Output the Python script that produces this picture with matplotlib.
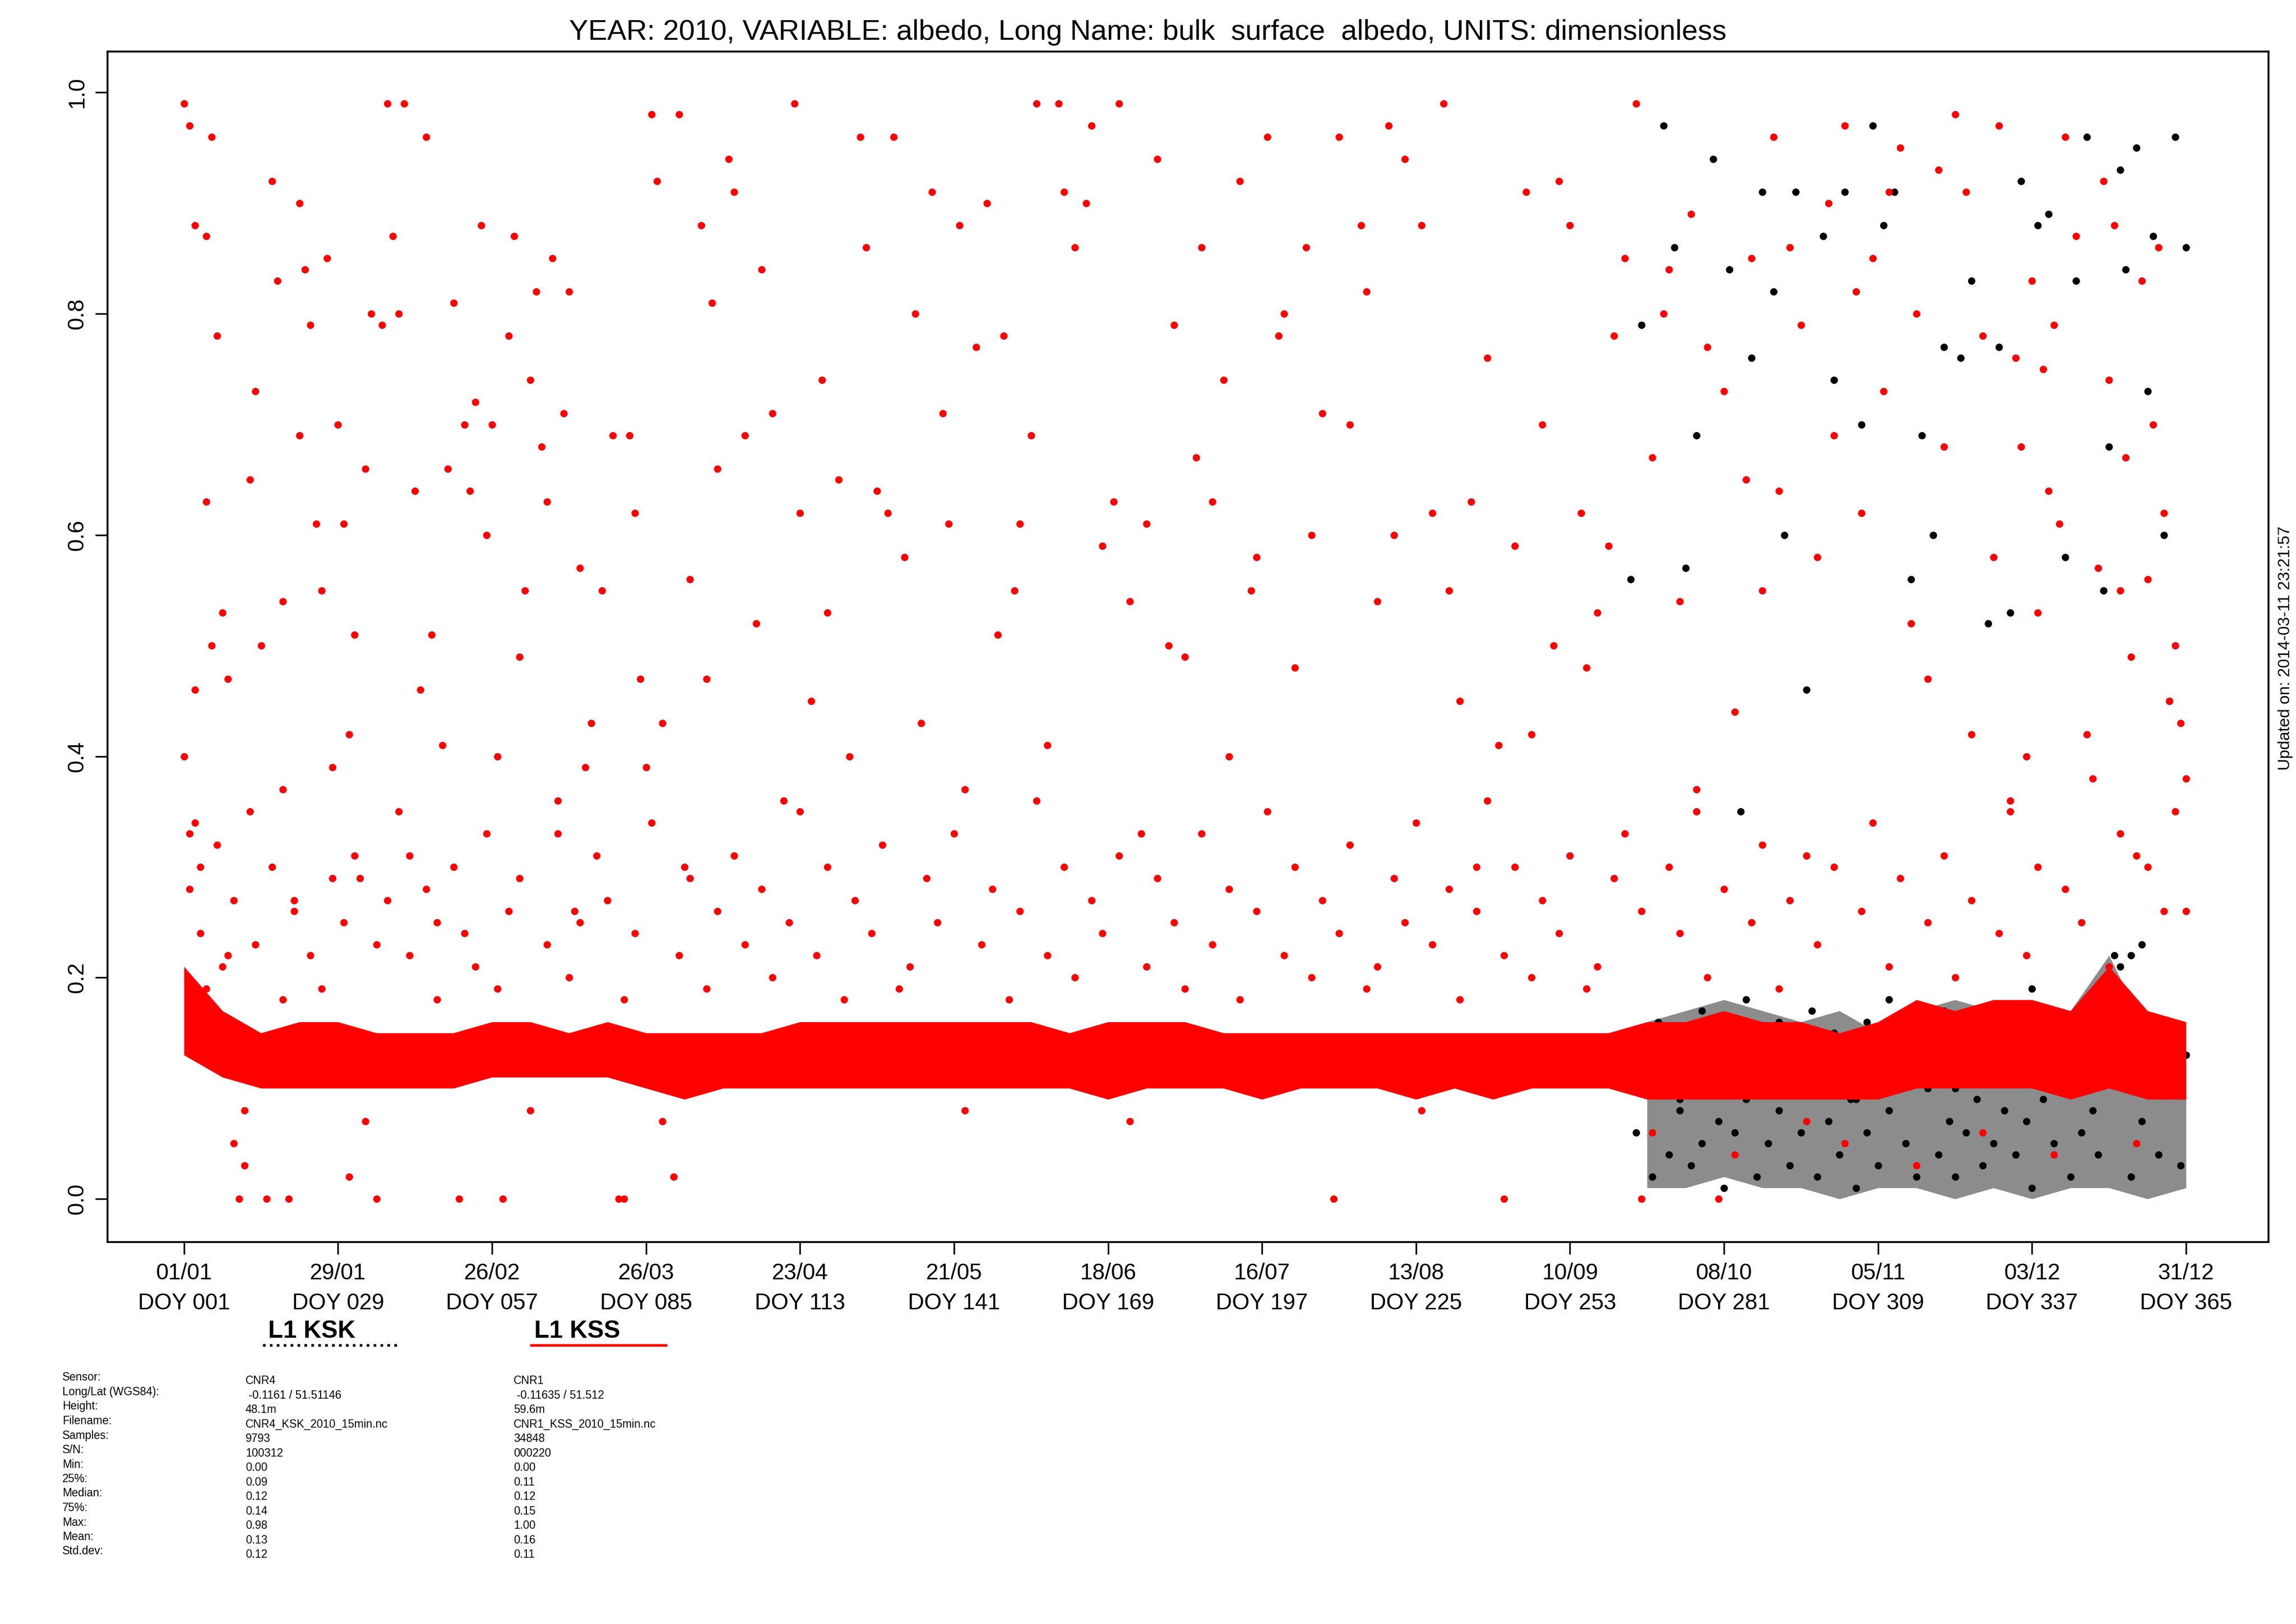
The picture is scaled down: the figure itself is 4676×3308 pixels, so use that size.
import matplotlib
matplotlib.use("Agg")
import matplotlib.pyplot as plt
import numpy as np

plt.rcParams['font.family'] = ['Liberation Sans', 'DejaVu Sans']

# ---------------- data ----------------
band_doy = [1, 8, 15, 22, 29, 36, 43, 50, 57, 64, 71, 78, 85, 92, 99, 106, 113, 120, 127, 134,
            141, 148, 155, 162, 169, 176, 183, 190, 197, 204, 211, 218, 225, 232, 239, 246,
            253, 260, 267, 274, 281, 288, 295, 302, 309, 316, 323, 330, 337, 344, 351, 358, 365]
kss_low = [0.13, 0.11, 0.10, 0.10, 0.10, 0.10, 0.10, 0.10, 0.11, 0.11, 0.11, 0.11, 0.10, 0.09, 0.10,
           0.10, 0.10, 0.10, 0.10, 0.10, 0.10, 0.10, 0.10, 0.10, 0.09, 0.10, 0.10, 0.10, 0.09, 0.10,
           0.10, 0.10, 0.09, 0.10, 0.09, 0.10, 0.10, 0.10, 0.09, 0.09, 0.09, 0.09, 0.09, 0.09, 0.09,
           0.10, 0.10, 0.10, 0.10, 0.09, 0.10, 0.09, 0.09]
kss_high = [0.21, 0.17, 0.15, 0.16, 0.16, 0.15, 0.15, 0.15, 0.16, 0.16, 0.15, 0.16, 0.15, 0.15, 0.15,
            0.15, 0.16, 0.16, 0.16, 0.16, 0.16, 0.16, 0.16, 0.15, 0.16, 0.16, 0.16, 0.15, 0.15, 0.15,
            0.15, 0.15, 0.15, 0.15, 0.15, 0.15, 0.15, 0.15, 0.16, 0.16, 0.17, 0.16, 0.16, 0.15, 0.16,
            0.18, 0.17, 0.18, 0.18, 0.17, 0.21, 0.17, 0.16]

kss_doy = [1, 1, 2, 2, 3, 3, 4, 5, 5, 6, 6, 7, 8, 9, 9, 10, 11, 12, 13, 13, 14, 15, 16, 17, 18, 19, 19,
           20, 21, 22, 22, 23, 24, 25, 26, 27, 28, 29, 30, 31, 31, 32, 33, 34, 35, 36, 37, 38, 39, 40,
           41, 42, 43, 44, 45, 46, 47, 48, 49, 50, 51, 52, 53, 54, 55, 56, 57, 58, 59, 60, 61, 62,
           63, 64, 65, 66, 67, 68, 69, 70, 71, 72, 73, 74, 75, 77, 79, 80, 81, 82, 83, 84, 85, 86,
           87, 88, 90, 91, 92, 93, 95, 96, 97, 98, 100, 101, 103, 105, 106, 108, 110, 112, 113,
           115, 117, 118, 120, 122, 124, 125, 127, 129, 130, 132, 134, 135, 137, 139, 140, 142,
           143, 145, 147, 149, 150, 152, 153, 155, 156, 158, 160, 161, 163, 165, 166, 168, 170,
           171, 173, 175, 176, 178, 180, 181, 183, 185, 186, 188, 190, 191, 193, 195, 196, 198,
           200, 201, 203, 205, 206, 208, 210, 211, 213, 215, 216, 218, 220, 221, 223, 225, 226,
           228, 230, 231, 233, 235, 236, 238, 240, 241, 243, 245, 246, 248, 250, 251, 253, 255,
           256, 258, 260, 261, 263, 265, 266, 268, 270, 271, 273, 275, 276, 278, 280, 281, 283,
           285, 286, 288, 290, 291, 293, 295, 296, 298, 300, 301, 303, 305, 306, 308, 310, 311,
           313, 315, 316, 318, 320, 321, 323, 325, 326, 328, 330, 331, 333, 334, 335, 336, 337,
           338, 339, 340, 341, 342, 343, 345, 347, 349, 350, 351, 352, 353, 354, 355, 356, 357,
           358, 359, 360, 361, 362, 363, 364, 365, 365]
kss_val = [0.99, 0.40, 0.97, 0.33, 0.88, 0.46, 0.30, 0.87, 0.63, 0.96, 0.50, 0.78, 0.53, 0.47, 0.22,
           0.05, 0.00, 0.03, 0.65, 0.35, 0.73, 0.50, 0.00, 0.92, 0.83, 0.54, 0.37, 0.00, 0.27,
           0.90, 0.69, 0.84, 0.79, 0.61, 0.55, 0.85, 0.39, 0.70, 0.61, 0.42, 0.02, 0.51, 0.29,
           0.66, 0.80, 0.00, 0.79, 0.99, 0.87, 0.80, 0.99, 0.31, 0.64, 0.46, 0.96, 0.51, 0.25,
           0.41, 0.66, 0.81, 0.00, 0.70, 0.64, 0.72, 0.88, 0.60, 0.70, 0.40, 0.00, 0.78, 0.87,
           0.49, 0.55, 0.74, 0.82, 0.68, 0.63, 0.85, 0.33, 0.71, 0.82, 0.26, 0.57, 0.39, 0.43,
           0.55, 0.69, 0.00, 0.00, 0.69, 0.62, 0.47, 0.39, 0.98, 0.92, 0.43, 0.02, 0.98, 0.30,
           0.56, 0.88, 0.47, 0.81, 0.66, 0.94, 0.91, 0.69, 0.52, 0.84, 0.71, 0.36, 0.99, 0.62,
           0.45, 0.74, 0.53, 0.65, 0.40, 0.96, 0.86, 0.64, 0.62, 0.96, 0.58, 0.80, 0.43, 0.91,
           0.71, 0.61, 0.88, 0.37, 0.77, 0.90, 0.51, 0.78, 0.55, 0.61, 0.69, 0.99, 0.41, 0.99,
           0.91, 0.86, 0.90, 0.97, 0.59, 0.63, 0.99, 0.54, 0.33, 0.61, 0.94, 0.50, 0.79, 0.49,
           0.67, 0.86, 0.63, 0.74, 0.40, 0.92, 0.55, 0.58, 0.96, 0.78, 0.80, 0.48, 0.86, 0.60,
           0.71, 0.00, 0.96, 0.70, 0.88, 0.82, 0.54, 0.97, 0.60, 0.94, 0.34, 0.88, 0.62, 0.99,
           0.55, 0.45, 0.63, 0.30, 0.76, 0.41, 0.00, 0.59, 0.91, 0.42, 0.70, 0.50, 0.92, 0.88,
           0.62, 0.48, 0.53, 0.59, 0.78, 0.85, 0.99, 0.00, 0.67, 0.80, 0.84, 0.54, 0.89, 0.37,
           0.77, 0.00, 0.73, 0.44, 0.65, 0.85, 0.55, 0.96, 0.64, 0.86, 0.79, 0.31, 0.58, 0.90,
           0.69, 0.97, 0.82, 0.62, 0.85, 0.73, 0.91, 0.95, 0.52, 0.80, 0.47, 0.93, 0.68, 0.98,
           0.91, 0.42, 0.78, 0.58, 0.97, 0.35, 0.76, 0.68, 0.40, 0.83, 0.53, 0.75, 0.64, 0.79,
           0.61, 0.96, 0.87, 0.42, 0.57, 0.92, 0.74, 0.88, 0.55, 0.67, 0.49, 0.31, 0.83, 0.56,
           0.70, 0.86, 0.62, 0.45, 0.50, 0.43, 0.38, 0.26, 0.60, 0.00, 0.92, 0.88, 0.72, 0.30,
           0.50, 0.59, 0.89, 0.64, 0.72, 0.58, 0.34, 0.53, 0.62, 0.90, 0.55, 0.76, 0.44]

kss_mid_doy = [2, 3, 4, 5, 7, 8, 10, 12, 14, 17, 19, 21, 24, 26, 28, 30, 32, 34, 36, 38, 40, 42,
               45, 47, 50, 52, 54, 56, 58, 60, 62, 64, 67, 69, 71, 73, 76, 78, 81, 83, 86, 88,
               91, 93, 96, 98, 101, 103, 106, 108, 111, 113, 116, 118, 121, 123, 126, 128, 131,
               133, 136, 138, 141, 143, 146, 148, 151, 153, 156, 158, 161, 163, 166, 168, 171,
               173, 176, 178, 181, 183, 186, 188, 191, 193, 196, 198, 201, 203, 206, 208, 211,
               213, 216, 218, 221, 223, 226, 228, 231, 233, 236, 238, 241, 243, 246, 248, 251,
               253, 256, 258, 261, 263, 266, 268, 271, 273, 276, 278, 281, 283, 286, 288, 291,
               293, 296, 298, 301, 303, 306, 308, 311, 313, 316, 318, 321, 323, 326, 328, 331,
               333, 336, 338, 341, 343, 346, 348, 351, 353, 356, 358, 361, 363]
kss_mid_val = [0.28, 0.34, 0.24, 0.19, 0.32, 0.21, 0.27, 0.08, 0.23, 0.30, 0.18, 0.26, 0.22, 0.19,
               0.29, 0.25, 0.31, 0.07, 0.23, 0.27, 0.35, 0.22, 0.28, 0.18, 0.30, 0.24, 0.21, 0.33,
               0.19, 0.26, 0.29, 0.08, 0.23, 0.36, 0.20, 0.25, 0.31, 0.27, 0.18, 0.24, 0.34, 0.07,
               0.22, 0.29, 0.19, 0.26, 0.31, 0.23, 0.28, 0.20, 0.25, 0.35, 0.22, 0.30, 0.18, 0.27,
               0.24, 0.32, 0.19, 0.21, 0.29, 0.25, 0.33, 0.08, 0.23, 0.28, 0.18, 0.26, 0.36, 0.22,
               0.30, 0.20, 0.27, 0.24, 0.31, 0.07, 0.21, 0.29, 0.25, 0.19, 0.33, 0.23, 0.28, 0.18,
               0.26, 0.35, 0.22, 0.30, 0.20, 0.27, 0.24, 0.32, 0.19, 0.21, 0.29, 0.25, 0.08, 0.23,
               0.28, 0.18, 0.26, 0.36, 0.22, 0.30, 0.20, 0.27, 0.24, 0.31, 0.19, 0.21, 0.29, 0.33,
               0.26, 0.06, 0.30, 0.24, 0.35, 0.20, 0.28, 0.04, 0.25, 0.32, 0.19, 0.27, 0.07, 0.23,
               0.30, 0.05, 0.26, 0.34, 0.21, 0.29, 0.03, 0.25, 0.31, 0.20, 0.27, 0.06, 0.24, 0.36,
               0.22, 0.30, 0.04, 0.28, 0.25, 0.38, 0.21, 0.33, 0.05, 0.30, 0.26, 0.35, 0.22, 0.28]

ksk_doy = [264, 265, 266, 268, 269, 270, 271, 272, 273, 274, 275, 276, 277, 278, 279, 280, 281,
           282, 283, 284, 285, 286, 287, 288, 289, 290, 291, 292, 293, 294, 295, 296, 297, 298,
           299, 300, 301, 302, 303, 304, 305, 306, 307, 308, 309, 310, 311, 312, 313, 314, 315,
           316, 317, 318, 319, 320, 321, 322, 323, 324, 325, 326, 327, 328, 329, 330, 331, 332,
           333, 334, 335, 336, 337, 338, 339, 340, 341, 342, 343, 344, 345, 346, 347, 348, 349,
           350, 351, 352, 353, 354, 355, 356, 357, 358, 359, 360, 361, 362, 363, 364, 365]
ksk_val = [0.56, 0.06, 0.79, 0.02, 0.10, 0.97, 0.04, 0.86, 0.08, 0.57, 0.03, 0.69, 0.05, 0.12,
           0.94, 0.07, 0.01, 0.84, 0.06, 0.35, 0.09, 0.76, 0.02, 0.91, 0.05, 0.82, 0.08, 0.60,
           0.03, 0.91, 0.06, 0.46, 0.10, 0.02, 0.87, 0.07, 0.74, 0.04, 0.91, 0.09, 0.01, 0.70,
           0.06, 0.97, 0.03, 0.88, 0.08, 0.91, 0.12, 0.05, 0.56, 0.02, 0.69, 0.10, 0.60, 0.04,
           0.77, 0.07, 0.02, 0.76, 0.06, 0.83, 0.09, 0.03, 0.52, 0.05, 0.77, 0.08, 0.53, 0.04,
           0.92, 0.07, 0.01, 0.88, 0.09, 0.89, 0.05, 0.12, 0.58, 0.02, 0.83, 0.06, 0.96, 0.08,
           0.04, 0.55, 0.68, 0.22, 0.93, 0.84, 0.02, 0.95, 0.07, 0.73, 0.87, 0.04, 0.60, 0.45,
           0.96, 0.03, 0.86]
ksk_low2_doy = [265, 267, 269, 271, 273, 275, 277, 279, 281, 283, 285, 287, 289, 291, 293, 295,
                297, 299, 301, 303, 305, 307, 309, 311, 313, 315, 317, 319, 321, 323, 325, 327,
                329, 331, 333, 335, 337, 339, 341, 343, 345, 347, 349, 351, 353, 355, 357, 359,
                361, 363, 365]
ksk_low2_val = [0.15, 0.11, 0.16, 0.13, 0.09, 0.14, 0.17, 0.11, 0.15, 0.12, 0.18, 0.13, 0.10,
                0.16, 0.12, 0.14, 0.17, 0.11, 0.15, 0.13, 0.09, 0.16, 0.12, 0.18, 0.14, 0.11,
                0.15, 0.13, 0.17, 0.10, 0.14, 0.12, 0.16, 0.11, 0.13, 0.15, 0.19, 0.12, 0.14,
                0.10, 0.16, 0.13, 0.11, 0.15, 0.21, 0.22, 0.23, 0.12, 0.14, 0.10, 0.13]
ksk_low = [0.01, 0.01, 0.02, 0.01, 0.01, 0.00, 0.01, 0.01, 0.00, 0.01, 0.00, 0.01, 0.01, 0.00, 0.01]
ksk_high = [0.16, 0.17, 0.18, 0.17, 0.16, 0.17, 0.15, 0.17, 0.18, 0.17, 0.16, 0.17, 0.22, 0.15, 0.12]
ksk_band_doy = [267, 274, 281, 288, 295, 302, 309, 316, 323, 330, 337, 344, 351, 358, 365]

xtick_doy = [1, 29, 57, 85, 113, 141, 169, 197, 225, 253, 281, 309, 337, 365]
xtick_date = ["01/01", "29/01", "26/02", "26/03", "23/04", "21/05", "18/06", "16/07",
              "13/08", "10/09", "08/10", "05/11", "03/12", "31/12"]

info_labels = ["Sensor:", "Long/Lat (WGS84):", "Height:", "Filename:", "Samples:", "S/N:", "Min:",
               "25%:", "Median:", "75%:", "Max:", "Mean:", "Std.dev:"]
info_ksk = ["CNR4", " -0.1161 / 51.51146", "48.1m", "CNR4_KSK_2010_15min.nc", "9793", "100312",
            "0.00", "0.09", "0.12", "0.14", "0.98", "0.13", "0.12"]
info_kss = ["CNR1", " -0.11635 / 51.512", "59.6m", "CNR1_KSS_2010_15min.nc", "34848", "000220",
            "0.00", "0.11", "0.12", "0.15", "1.00", "0.16", "0.11"]


def pairs(xs, ys):
    p = list(zip(xs, ys))
    return [a for a, _ in p], [b for _, b in p]


# ---------------- plot ----------------
W, H = 4676, 3308
fig = plt.figure(figsize=(W / 300, H / 300), dpi=300)
ax = fig.add_axes([219 / W, 1 - 2530 / H, (4620 - 219) / W, (2530 - 105) / H])

MS = 13
ax.fill_between(ksk_band_doy, ksk_low, ksk_high, color='black', alpha=0.45, lw=0)
ax.scatter(*pairs(ksk_doy, ksk_val), s=MS, c='black', lw=0)
ax.scatter(*pairs(ksk_low2_doy, ksk_low2_val), s=MS, c='black', lw=0)
ax.fill_between(band_doy, kss_low, kss_high, color='red', lw=0)
ax.scatter(*pairs(kss_mid_doy, kss_mid_val), s=MS, c='red', lw=0)
ax.scatter(*pairs(kss_doy, kss_val), s=MS, c='red', lw=0)

ax.set_xlim(-12.9, 380)
ax.set_ylim(-0.039, 1.037)
ax.set_xticks(xtick_doy)
ax.set_xticklabels([f"{d}\nDOY {n:03d}" for d, n in zip(xtick_date, xtick_doy)], fontsize=11,
                   linespacing=1.5)
ax.set_yticks([0, 0.2, 0.4, 0.6, 0.8, 1.0])
ax.set_yticklabels(["0.0", "0.2", "0.4", "0.6", "0.8", "1.0"], rotation=90, va='center', fontsize=11)
ax.tick_params(length=6, width=0.8)
ax.tick_params(axis='x', pad=4)
for s in ax.spines.values():
    s.set_linewidth(0.9)

fig.text(0.5, 1 - 66 / H, "YEAR: 2010, VARIABLE: albedo, Long Name: bulk  surface  albedo, UNITS: dimensionless",
         ha='center', va='center', fontsize=14)
fig.text(4655 / W, 1 - 1320 / H, "Updated on: 2014-03-11 23:21:57", rotation=90,
         ha='center', va='center', fontsize=8)

fig.text(546 / W, 1 - 2712 / H, "L1 KSK", fontsize=12, fontweight='bold', va='center')
fig.lines.append(plt.Line2D([535 / W, 812 / W], [1 - 2740 / H] * 2, transform=fig.transFigure,
                            color='black', lw=1.3, ls=(0, (1, 1.6))))
fig.text(1088 / W, 1 - 2712 / H, "L1 KSS", fontsize=12, fontweight='bold', va='center')
fig.lines.append(plt.Line2D([1082 / W, 1356 / W], [1 - 2740 / H] * 2, transform=fig.transFigure,
                            color='red', lw=1.3))

for i, (a, b, c) in enumerate(zip(info_labels, info_ksk, info_kss)):
    y = 1 - (2806 + i * 29.5) / H
    fig.text(127 / W, y, a, fontsize=5.5, va='center')
    fig.text(500 / W, y - 0.002, b, fontsize=5.5, va='center')
    fig.text(1046 / W, y - 0.002, c, fontsize=5.5, va='center')

fig.savefig("out.png", dpi=300)
